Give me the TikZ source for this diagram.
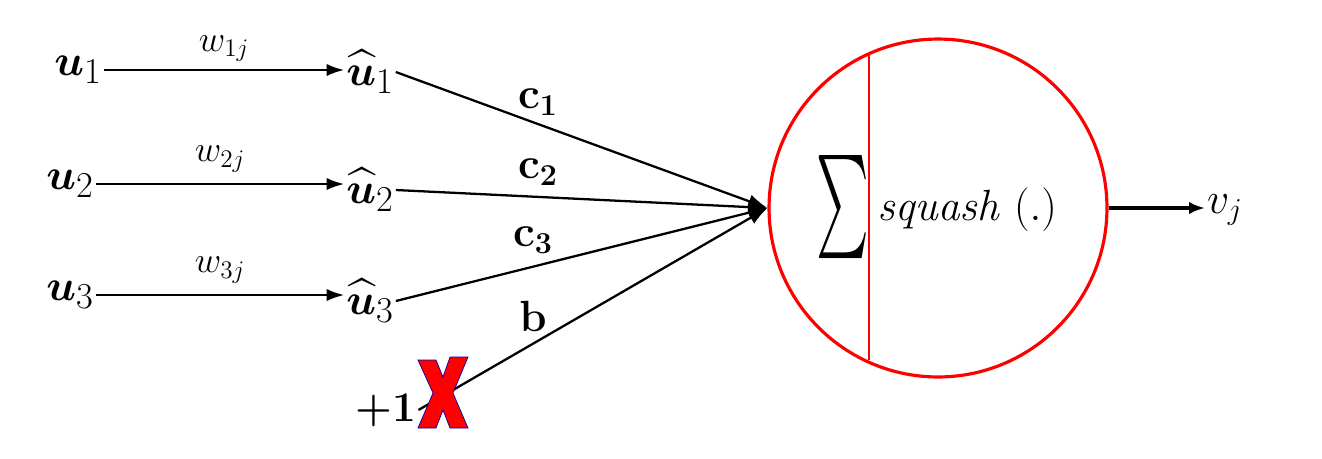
\documentclass[tikz,border=0pt]{standalone}
\usepackage{amsmath,amssymb,bm,graphicx}
\usetikzlibrary{arrows.meta}
\tikzset{
  inp/.style={inner sep=1pt,font=\fontsize{28}{30}\selectfont},
  wlab/.style={inner sep=1pt,font=\fontsize{21}{23}\selectfont},
  clab/.style={inner sep=1pt,font=\fontsize{26}{28}\selectfont},
  conn/.style={line width=1.3pt,-{Latex[length=10pt,width=7pt]}},
  feed/.style={line width=1.3pt,-{Latex[length=11pt,width=8pt]}},
  neuron/.style={circle,draw=red,line width=1.8pt,minimum size=6.76cm,inner sep=0pt},
}
\begin{document}
\begin{tikzpicture}[x=0.02cm,y=-0.02cm]
\useasboundingbox (0,0) rectangle (1322,458);
% inputs
\node[inp] (u1) at (78,70) {$\bm{u}_1$};
\node[inp] (u2) at (70,184) {$\bm{u}_2$};
\node[inp] (u3) at (70,295) {$\bm{u}_3$};
\node[inp] (uh1) at (370,72) {$\bm{\widehat{u}}_1$};
\node[inp] (uh2) at (370,190) {$\bm{\widehat{u}}_2$};
\node[inp] (uh3) at (370,301) {$\bm{\widehat{u}}_3$};
\node[inp,font=\fontsize{24}{26}\selectfont\bfseries] (one) at (386,410) {+1};
% neuron
\node[neuron] (neu) at (938,208) {};
\coordinate (top) at (869,53);
\coordinate (bot) at (869,360);
\draw[red,line width=0.9pt] (top) -- (bot);
\node[inner sep=0pt] (sum) at (843,207) {\resizebox{30pt}{44pt}{$\sum$}};
\node[inner sep=0pt,anchor=west,font=\fontsize{26}{28}\selectfont] (sq) at (877,210) {$\mathit{squash}\;(.)$};
\node[inner sep=1pt,font=\fontsize{25}{27}\selectfont,anchor=west] (vj) at (1205,210) {$v_j$};
% weights
\draw[conn] (u1.east) -- (u1.east -| uh1.west) node[midway,above=3pt,wlab] (w1) {$w_{1j}$};
\draw[conn] (u2.east) -- (u2.east -| uh2.west) node[midway,above=5pt,wlab] (w2) {$w_{2j}$};
\draw[conn] (u3.east) -- (u3.east -| uh3.west) node[midway,above=5pt,wlab] (w3) {$w_{3j}$};
% feeding lines
\draw[feed] (uh1.east) -- (neu.west);
\draw[feed] (uh2.east) -- (neu.west);
\draw[feed] (uh3.east) -- (neu.west);
\draw[feed] (one.east) -- (neu.west);
\node[clab] (c1) at (538,102) {$\mathbf{c}_{\mathbf{1}}$};
\node[clab] (c2) at (538,172) {$\mathbf{c}_{\mathbf{2}}$};
\node[clab] (c3) at (533,240) {$\mathbf{c}_{\mathbf{3}}$};
\node[clab] (b) at (533,316) {$\mathbf{b}$};
% output
\draw[line width=1.8pt,-{Latex[length=9pt,width=7pt]}] (neu.east) -- (neu.east -| vj.west);
% cross
\draw[fill=red,draw=blue!70!black,line width=0.4pt]
  (418,360) -- (436,360) -- (443,377) -- (450,357) -- (468,357) -- (453,393)
  -- (468,428) -- (450,428) -- (443,410) -- (436,428) -- (418,428) -- (433,393) -- cycle;
\end{tikzpicture}
\end{document}
